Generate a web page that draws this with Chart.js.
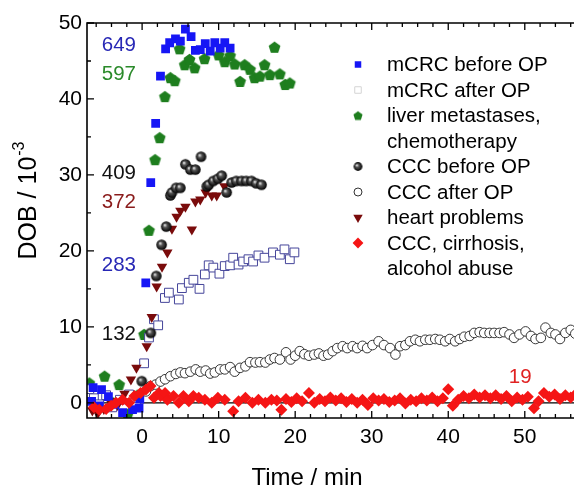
<!DOCTYPE html>
<html>
<head>
<meta charset="utf-8">
<script src="https://cdn.jsdelivr.net/npm/chart.js@4.4.0/dist/chart.umd.min.js"></script>
<style>
  html, body { margin: 0; padding: 0; background: #fff; overflow: hidden; }
  #wrap { width: 574px; height: 488px; overflow: hidden; }
</style>
</head>
<body>
<div id="wrap"><canvas id="dobChart" width="620" height="488"></canvas></div>
<script>
// series values [time (min), DOB (10^-3)]
const mcrcBefore = [[-6.6,0.2],[-6.4,2.0],[-5.3,1.75],[-5.6,-0.4],[-4.4,0.8],[-3.6,-0.2],[-2.55,-1.3],[-1.25,-0.9],[-0.4,-0.7],[-0.3,0.5],
  [0.48,15.8],[1.13,29.0],[1.77,36.8],[2.4,43.0],[3.07,46.6],[3.6,47.4],[4.36,47.9],[5.0,47.6],[5.66,49.2],[6.4,48.2],
  [6.96,46.4],[7.6,46.5],[8.25,47.3],[8.9,46.3],[9.5,47.4],[10.2,46.7],[10.8,47.4],[11.5,46.7]];
const mcrcAfter = [[-6.9,1.8],[-6.3,0.6],[-5.6,-0.2],[-4.7,1.0],[-3.9,-0.6],[-2.9,0.4],[-1.7,1.1],[-0.8,-0.5],
  [0.26,5.2],[0.9,8.6],[1.55,11.0],[2.1,10.2],[2.98,13.8],[3.5,14.5],[4.8,13.6],[5.2,15.1],[6.1,15.8],[6.7,16.2],
  [7.5,15.0],[8.2,16.9],[8.7,18.1],[9.3,17.8],[10.1,17.0],[10.8,18.0],[11.5,18.1],[11.9,19.1],[12.6,18.2],[13.2,18.6],
  [13.9,18.9],[14.5,18.6],[15.2,19.4],[16.0,19.1],[17.1,19.8],[18.0,19.5],[18.6,20.2],[19.3,18.9],[19.9,19.8]];
const liverMeta = [[-6.9,2.6],[-4.9,3.5],[-3.8,0.0],[-3.0,2.4],[-1.9,-1.5],[-0.6,1.0],
  [0.26,9.0],[0.9,22.7],[1.7,32.0],[2.3,34.9],[2.98,40.3],[3.7,42.8],[4.27,42.4],[4.9,46.6],[5.57,44.5],[6.2,45.2],
  [6.87,44.1],[8.16,45.3],[10.0,45.8],[10.8,44.9],[11.5,45.7],[12.1,44.6],[12.8,42.3],[13.4,44.5],[14.1,43.9],
  [14.7,42.8],[15.4,43.0],[16.0,44.5],[16.7,43.2],[17.3,46.8],[18.0,43.3],[18.7,41.9],[19.3,42.1]];
const cccBefore = [[-0.04,2.85],[1.13,9.2],[1.85,16.7],[2.55,20.8],[3.15,23.2],[3.7,27.3],[3.9,27.7],[4.44,28.3],
  [5.0,28.3],[5.66,31.4],[6.3,30.7],[6.96,30.7],[7.7,32.4],[8.45,28.5],[8.7,28.7],[9.3,29.2],[9.9,29.5],[10.4,29.9],
  [11.05,27.7],[11.7,29.0],[12.3,29.2],[13.0,29.2],[13.6,29.2],[14.3,29.2],[14.9,28.9],[15.6,28.7]];
const cccAfter = [[0.5,1.5],[1.1,2.2],[1.77,2.4],[2.4,2.8],[3.0,3.1],[3.7,3.5],[4.4,3.8],[5.0,4.0],[5.6,3.9],[6.3,4.1],
  [7.0,4.4],[7.6,4.1],[8.3,4.25],[8.9,3.85],[9.5,4.0],[10.2,4.4],[10.8,4.4],[11.5,4.7],[12.1,4.1],[12.8,4.6],[13.5,4.8],
  [14.1,5.35],[14.8,5.3],[15.4,5.35],[16.1,5.3],[16.7,5.7],[17.3,5.9],[18.0,5.7],[18.8,6.65],[19.4,5.7],[20.0,6.2],
  [20.6,6.8],[21.2,6.4],[21.8,6.2],[22.5,6.35],[23.1,6.5],[23.7,6.2],[24.3,6.35],[24.9,6.8],[25.5,7.2],[26.2,7.45],
  [26.8,7.2],[27.5,7.45],[28.1,7.2],[28.8,7.5],[29.4,7.2],[30.1,7.6],[30.9,8.1],[31.6,7.6],[32.4,7.2],[33.1,6.35],
  [33.7,7.45],[34.4,7.6],[35.0,8.1],[35.7,8.3],[36.3,8.1],[37.0,8.3],[37.6,8.3],[38.3,8.4],[38.9,8.3],[39.6,8.1],
  [40.2,8.4],[40.9,8.1],[41.5,8.4],[42.1,8.7],[42.8,8.8],[43.4,9.2],[44.1,9.3],[44.7,9.2],[45.4,9.2],[46.0,9.2],
  [46.7,9.2],[47.3,9.3],[48.0,9.0],[48.6,8.55],[49.3,9.0],[50.1,9.4],[50.8,8.8],[51.4,8.4],[52.1,8.55],[52.7,9.9],
  [53.4,9.2],[54.0,9.0],[54.6,8.4],[55.3,9.2],[56.0,9.6],[56.6,9.1],[57.3,9.4],[58.0,9.0],[58.6,9.3],[59.3,9.1]];
const heartProblems = [[-6.5,-1.0],[-5.8,-1.4],[-5.0,-0.8],[-4.2,0.2],[-3.2,-0.3],[-2.3,1.2],[-1.46,3.07],[-0.74,4.6],
  [0.6,7.45],[1.26,11.3],[1.9,15.3],[2.6,17.9],[3.3,19.8],[3.9,22.9],[4.5,24.5],[5.0,25.3],[5.66,25.8],[6.5,22.8],
  [6.96,26.5],[7.6,26.75],[8.3,27.7],[9.1,27.3],[9.75,27.3],[10.75,28.5]];
const cccCirrhosis = [[-6.3,-0.6],[-5.6,-0.9],[-4.7,-0.8],[-4.05,-0.4],[-3.4,0.0],[-2.55,0.4],[-1.7,0.0],[-1.0,0.9],
  [-0.2,1.3],[0.5,1.75],[1.1,2.2],[1.55,0.65],[2.2,1.3],[2.4,0.9],[3.0,1.3],[3.3,0.4],[4.1,0.9],[4.8,0.0],[5.4,0.9],
  [6.1,0.2],[6.7,0.9],[7.4,0.65],[8.2,0.4],[9.1,0.0],[9.9,0.65],[10.8,0.4],[11.9,-1.1],[12.6,0.2],[13.5,0.65],[14.4,0.0],
  [15.2,0.4],[16.1,0.0],[16.9,0.4],[17.6,0.3],[18.2,-0.9],[18.8,0.5],[19.5,0.1],[20.2,0.6],[20.9,0.2],[21.8,1.3],
  [22.5,0.0],[23.2,0.5],[23.9,0.2],[24.6,0.7],[25.3,0.3],[26.0,0.6],[26.7,0.1],[27.4,0.5],[28.1,0.0],[28.8,0.4],
  [29.5,-0.3],[30.2,0.6],[30.9,0.3],[31.6,0.5],[32.3,0.1],[33.0,0.3],[33.7,0.6],[34.4,-0.1],[35.1,0.4],[35.8,0.2],
  [36.5,0.6],[37.2,0.3],[37.9,0.7],[38.6,0.2],[39.3,0.6],[40.0,1.8],[40.6,-0.4],[41.3,0.4],[42.0,0.9],[42.7,0.6],
  [43.4,1.1],[44.1,0.7],[44.8,1.0],[45.5,0.6],[46.2,1.0],[46.9,0.5],[47.6,0.9],[48.3,0.2],[49.0,0.7],[49.7,0.4],
  [50.4,0.8],[51.2,-0.7],[51.8,0.2],[52.5,1.3],[53.2,0.8],[53.9,1.1],[54.6,0.5],[55.3,1.0],[56.0,0.7],[56.7,1.2],
  [57.4,0.8],[58.1,1.1],[58.8,0.7],[59.5,1.0]];

const seriesLabels = ['mCRC before OP', 'mCRC after OP', ['liver metastases,', 'chemotherapy'],
  'CCC before OP', 'CCC after OP', 'heart problems', ['CCC, cirrhosis,', 'alcohol abuse']];

// numbers written next to the curves
const noteText = ['649', '597', '409', '372', '283', '132', '19'];
const noteX = [-0.8, -0.8, -0.8, -0.8, -0.8, -0.8, 50.9];
const noteY = [47.0, 43.3, 30.2, 26.4, 18.1, 9.0, 3.3];
const noteColor = ['#2727b5', '#2a8a2a', '#111111', '#8a1b1b', '#2727b5', '#111111', '#e02222'];

const xTickVals = [0, 10, 20, 30, 40, 50, 60];
const yTickVals = [0, 10, 20, 30, 40, 50];

const FONT = '"Liberation Sans", Arial, sans-serif';

// marker images for the shapes chart.js does not have
function makePentagon(color, r) {
  const c = document.createElement('canvas');
  const s = Math.ceil(r * 2 + 2);
  c.width = s; c.height = s;
  const g = c.getContext('2d');
  g.beginPath();
  for (let i = 0; i < 5; i++) {
    const a = -Math.PI / 2 + i * 2 * Math.PI / 5;
    const px = s / 2 + r * Math.cos(a), py = s / 2 + r * Math.sin(a) + 0.5;
    if (i === 0) g.moveTo(px, py); else g.lineTo(px, py);
  }
  g.closePath();
  g.fillStyle = color;
  g.fill();
  return c;
}

function makeSphere(r) {
  const c = document.createElement('canvas');
  const s = Math.ceil(r * 2 + 2);
  c.width = s; c.height = s;
  const g = c.getContext('2d');
  const grd = g.createRadialGradient(s / 2 - r * 0.3, s / 2 - r * 0.3, 0.3, s / 2, s / 2, r);
  grd.addColorStop(0, '#e8e8e8');
  grd.addColorStop(0.35, '#555');
  grd.addColorStop(1, '#000');
  g.beginPath();
  g.arc(s / 2, s / 2, r, 0, Math.PI * 2);
  g.fillStyle = grd;
  g.fill();
  return c;
}

const pentagon = makePentagon('#1e7e1e', 6.2);
const pentagonSmall = makePentagon('#1e7e1e', 4.8);
const sphere = makeSphere(5.3);
const sphereSmall = makeSphere(4.4);

const toXY = arr => arr.map(p => ({ x: p[0], y: p[1] }));

const datasets = [
  { label: seriesLabels[0], data: toXY(mcrcBefore), pointStyle: 'rect', pointRadius: 6.2,
    backgroundColor: '#1616f5', borderColor: '#1616f5', borderWidth: 0, order: 3 },
  { label: seriesLabels[1], data: toXY(mcrcAfter), pointStyle: 'rect', pointRadius: 6.2,
    backgroundColor: '#ffffff', borderColor: '#45459a', borderWidth: 1, order: 5 },
  { label: seriesLabels[2], data: toXY(liverMeta), pointStyle: pentagon, pointRadius: 6,
    backgroundColor: '#1e7e1e', borderColor: '#1e7e1e', order: 6 },
  { label: seriesLabels[3], data: toXY(cccBefore), pointStyle: sphere, pointRadius: 5.5,
    backgroundColor: '#000', borderColor: '#000', order: 2 },
  { label: seriesLabels[4], data: toXY(cccAfter), pointStyle: 'circle', pointRadius: 4.8,
    backgroundColor: '#ffffff', borderColor: '#222222', borderWidth: 0.9, order: 4 },
  { label: seriesLabels[5], data: toXY(heartProblems), pointStyle: 'triangle', pointRotation: 180, pointRadius: 6,
    backgroundColor: '#7a0b0b', borderColor: '#7a0b0b', borderWidth: 0, order: 3 },
  { label: seriesLabels[6], data: toXY(cccCirrhosis), pointStyle: 'rectRot', pointRadius: 6,
    backgroundColor: '#f51515', borderColor: '#f51515', borderWidth: 0, order: 1 }
];

// legend markers (drawn by hand, the reference shows them slightly smaller)
const legendMarks = [
  { style: 'rect', r: 4.6, fill: '#1616f5' },
  { style: 'rect', r: 4.6, fill: '#ffffff', stroke: '#d4d4d4' },
  { style: pentagonSmall },
  { style: sphereSmall },
  { style: 'circle', r: 4, fill: '#ffffff', stroke: '#333' },
  { style: 'triangleDown', r: 5.4, fill: '#7a0b0b' },
  { style: 'rectRot', r: 5.4, fill: '#f51515' }
];

function drawMark(ctx, m, x, y) {
  ctx.save();
  if (typeof m.style !== 'string') {
    ctx.drawImage(m.style, x - m.style.width / 2, y - m.style.height / 2);
    ctx.restore();
    return;
  }
  ctx.beginPath();
  const r = m.r;
  if (m.style === 'rect') {
    const h = r * Math.SQRT1_2;
    ctx.rect(x - h, y - h, 2 * h, 2 * h);
  } else if (m.style === 'circle') {
    ctx.arc(x, y, r, 0, Math.PI * 2);
  } else if (m.style === 'rectRot') {
    ctx.moveTo(x, y - r); ctx.lineTo(x + r, y); ctx.lineTo(x, y + r); ctx.lineTo(x - r, y);
    ctx.closePath();
  } else if (m.style === 'triangleDown') {
    ctx.moveTo(x - r * 0.87, y - r * 0.5); ctx.lineTo(x + r * 0.87, y - r * 0.5); ctx.lineTo(x, y + r);
    ctx.closePath();
  }
  if (m.fill) { ctx.fillStyle = m.fill; ctx.fill(); }
  if (m.stroke) { ctx.strokeStyle = m.stroke; ctx.lineWidth = 1; ctx.stroke(); }
  ctx.restore();
}

const decorPlugin = {
  id: 'decor',
  beforeDatasetsDraw(chart) {
    const { ctx, chartArea: a, scales: { y } } = chart;
    const y0 = y.getPixelForValue(0);
    ctx.save();
    ctx.strokeStyle = '#000';
    ctx.lineWidth = 1.2;
    ctx.beginPath();
    ctx.moveTo(a.left, y0); ctx.lineTo(a.right, y0);
    ctx.stroke();
    ctx.restore();
  },
  afterDraw(chart) {
    const { ctx, chartArea: a, scales: { x, y } } = chart;
    ctx.save();
    // frame
    ctx.strokeStyle = '#000';
    ctx.lineWidth = 1.6;
    ctx.beginPath();
    ctx.moveTo(a.right + 2, a.top); ctx.lineTo(a.left, a.top);
    ctx.lineTo(a.left, a.bottom); ctx.lineTo(a.right + 2, a.bottom);
    ctx.stroke();
    // inward ticks
    ctx.lineWidth = 1.3;
    ctx.beginPath();
    for (let v = -6; v <= 60; v += 2) {
      const px = x.getPixelForValue(v);
      const len = v % 10 === 0 ? 7 : 4;
      ctx.moveTo(px, a.bottom); ctx.lineTo(px, a.bottom - len);
      ctx.moveTo(px, a.top); ctx.lineTo(px, a.top + len);
    }
    for (let v = 0; v <= 50; v += 5) {
      const py = y.getPixelForValue(v);
      const len = v % 10 === 0 ? 7 : 4;
      ctx.moveTo(a.left, py); ctx.lineTo(a.left + len, py);
    }
    ctx.stroke();

    // notes next to curves
    ctx.font = '20.5px ' + FONT;
    ctx.textAlign = 'right';
    ctx.textBaseline = 'middle';
    noteText.forEach((t, i) => {
      ctx.fillStyle = noteColor[i];
      ctx.fillText(t, x.getPixelForValue(noteX[i]), y.getPixelForValue(noteY[i]));
    });

    // legend
    ctx.textAlign = 'left';
    ctx.fillStyle = '#000';
    let row = 0;
    const ly0 = 64.5, lh = 25.5;
    chart.data.datasets.forEach((ds, i) => {
      const lines = Array.isArray(ds.label) ? ds.label : [ds.label];
      drawMark(ctx, legendMarks[i], 358, ly0 + row * lh);
      lines.forEach(l => {
        ctx.fillStyle = '#000';
        ctx.fillText(l, 387, ly0 + row * lh + 1);
        row++;
      });
    });

    // axis titles
    ctx.fillStyle = '#000';
    ctx.font = '24px ' + FONT;
    ctx.textAlign = 'center';
    ctx.textBaseline = 'alphabetic';
    ctx.fillText('Time / min', 307, 485);

    ctx.save();
    ctx.translate(27, 201);
    ctx.rotate(-Math.PI / 2);
    ctx.font = '25px ' + FONT;
    const main = 'DOB / 10';
    const w1 = ctx.measureText(main).width;
    ctx.font = '16px ' + FONT;
    const w2 = ctx.measureText('-3').width;
    const start = -(w1 + w2) / 2;
    ctx.textAlign = 'left';
    ctx.font = '25px ' + FONT;
    ctx.fillText(main, start, 9);
    ctx.font = '16px ' + FONT;
    ctx.fillText('-3', start + w1 + 1, -3);
    ctx.restore();

    ctx.restore();
  }
};

new Chart(document.getElementById('dobChart').getContext('2d'), {
  type: 'scatter',
  data: { datasets: datasets },
  options: {
    responsive: false,
    animation: false,
    devicePixelRatio: 1,
    layout: { padding: { top: 23, right: 14, left: 0, bottom: 0 } },
    plugins: { legend: { display: false }, tooltip: { enabled: false } },
    elements: { point: { hoverRadius: 5 } },
    scales: {
      x: {
        type: 'linear', min: -7.2, max: 60,
        grid: { display: false, drawTicks: false },
        border: { display: false },
        ticks: { color: '#000', font: { family: FONT, size: 21 }, padding: 7, maxRotation: 0 },
        afterBuildTicks: s => { s.ticks = xTickVals.map(v => ({ value: v })); },
        afterFit: s => { s.height = 70; }
      },
      y: {
        type: 'linear', min: -2, max: 50,
        grid: { display: false, drawTicks: false },
        border: { display: false },
        ticks: { color: '#000', font: { family: FONT, size: 21 }, padding: 5 },
        afterBuildTicks: s => { s.ticks = yTickVals.map(v => ({ value: v })); },
        afterFit: s => { s.width = 87; }
      }
    }
  },
  plugins: [decorPlugin]
});
</script>
</body>
</html>
